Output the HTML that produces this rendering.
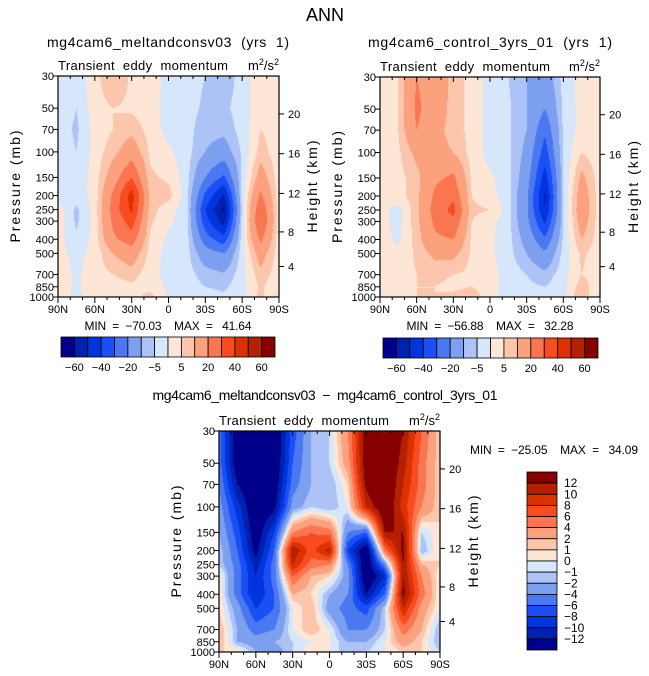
<!DOCTYPE html>
<html><head><meta charset="utf-8"><style>
body{margin:0;background:#fff;width:649px;height:676px;overflow:hidden;position:relative;font-family:"Liberation Sans",sans-serif}
canvas{position:absolute}
svg{position:absolute;left:0;top:0}
svg text{white-space:pre}
</style></head><body>
<canvas id="c1" style="left:58px;top:76px" width="221" height="221"></canvas>
<canvas id="c2" style="left:380px;top:77px" width="220" height="220"></canvas>
<canvas id="c3" style="left:219px;top:431px" width="221" height="221"></canvas>
<svg id="ov" width="649" height="676"></svg>
<script>
// ---- data ----
const lats = [90,75,60,45,30,15,0,-15,-30,-45,-60,-75,-90];
const levels = [30,50,70,100,150,200,250,300,400,500,700,850,1000];
const pTicks = [30,50,70,100,150,200,250,300,400,500,700,850,1000];
const hTicks = [4,8,12,16,20];
const latTicks = ["90N","60N","30N","0","30S","60S","90S"];
const palette = ["#00008b","#0020b0","#0035dd","#1a4ff8","#4a78f0","#7c9ff0","#adc3f7","#d6e6fb","#fde6d6","#fcc6ad","#fba17d","#f97650","#f84b1f","#dc3200","#b52000","#870000"];
const bounds1 = [-60,-50,-40,-30,-20,-10,-5,0,5,10,20,30,40,50,60];
const cbLabels1 = ["-60","-40","-20","-5","5","20","40","60"];
const bounds3 = [-12,-10,-8,-6,-4,-2,-1,0,1,2,4,6,8,10,12];
const cbLabels3 = ["12","10","8","6","4","2","1","0","\u22121","\u22122","\u22124","\u22126","\u22128","\u221210","\u221212"];
const field1 = [
[-2,-3,3,10,4,3,-2,-3,-5,-8,-3,4,3],
[-2,-5,3,5,4,2,-2,-3,-6,-6,-3,4,3],
[-2,-6,2,5,8,3,-2,-3,-8,-8,-3,5,3],
[-2,-5,2,8,15,4,1,-3,-10,-14,-4,7,2],
[-2,-3,2,15,30,6,4,-3,-20,-32,-4,14,2],
[-3,-3,2,22,45,8,7,-3,-32,-52,-3,22,2],
[3,-6,2,24,42,7,2,-3,-40,-62,-3,28,2],
[3,-6,2,22,35,6,1,-3,-36,-55,-3,30,2],
[2,-4,2,18,25,4,-1,-3,-25,-36,-2,22,2],
[2,-2,2,10,15,3,-2,-3,-15,-20,-2,14,2],
[3,-1,3,5,7,2,-2,-3,-7,-9,-2,8,2],
[3,-1,3,3,4,3,-1,-3,-5,-6,-2,6,1],
[2,-1,2,2,3,7,-1,-3,-3,-4,-2,7,-3]];
const field2 = [
[2,5,20,15,8,3,-2,-5,-10,-15,-3,2,2],
[2,5,22,14,8,3,-2,-4,-10,-20,-4,2,2],
[2,5,20,12,8,3,-2,-4,-10,-28,-4,2,2],
[2,4,12,12,10,3,-2,-4,-12,-35,-4,5,2],
[2,3,8,18,22,4,1,-3,-15,-45,-5,12,2],
[2,3,8,22,28,5,2,-3,-18,-52,-5,15,2],
[2,-2,8,24,33,6,5,-3,-18,-50,-5,16,2],
[2,-2,8,22,28,5,2,-3,-17,-42,-5,14,2],
[2,-1,7,18,20,4,1,-3,-13,-28,-4,10,2],
[2,1,6,12,12,4,1,-3,-10,-18,-3,6,2],
[2,2,5,6,5,4,2,-2,-5,-8,-2,5,2],
[3,3,5,5,4,5,2,-2,-4,-5,-2,8,1],
[3,3,5,5,6,8,2,-3,-4,-4,-2,10,-3]];
const field3 = [
[-5,-14,-15,-15,-7,-2,-1,4,14,15,12,6,1],
[-5,-14,-15,-15,-6,-2,-1,3,14,15,11,5,1],
[-4,-12,-15,-14,-5,-2,-2,1,13,15,10,5,1],
[-3,-9,-15,-13,-3,-1,-2,0,10,15,9,4,1],
[-2,-7,-14,-8,4,6,5,-4,-6,12,12,-1,1],
[-1,-6,-13,-6,12,7,11,-8,-15,5,13,-2,1],
[-1,-5,-11,-5,10,5,4,-4,-15,-4,12,2,1],
[1,-5,-10,-5,6,2,1,-3,-15,-10,12,4,0],
[1,-5,-10,-6,2,1,-2,-4,-12,-6,13,5,0],
[1,-3,-8,-6,0,2,-3,-5,-7,-1,10,3,0],
[2,-2,-5,-4,0,2,0,-4,-4,-1,5,2,-2],
[2,-2,-3,-2,-1,0,0,-2,-2,0,3,1,-2],
[1,1,-2,-3,-1,1,0,-2,-1,0,1,1,-1]];

const L0=Math.log(30), LR=Math.log(1000/30);
function yOfP(p,top,h){return top+(Math.log(p)-L0)/LR*h;}
function xOfLat(lat,left,w){return left+(90-lat)/180*w;}
function pOfZ(z){const m=z*1000; return m<=11000?1013.25*Math.pow(1-2.25577e-5*m,5.25588):226.32*Math.exp(-(m-11000)/6341.6);}
function colorOf(v,b){let i=0;while(i<b.length&&v>=b[i])i++;return palette[i];}
const lnLev = levels.map(Math.log);
function drawField(id,field,b){
  const c=document.getElementById(id),ctx=c.getContext('2d'),W=c.width,H=c.height;
  for(let py=0;py<H;py++){
    const lp=L0+(py+0.5)/H*LR;
    let k=0;while(k<lnLev.length-2&&lp>lnLev[k+1])k++;
    let t=(lp-lnLev[k])/(lnLev[k+1]-lnLev[k]);t=Math.max(0,Math.min(1,t));
    for(let px=0;px<W;px++){
      const fx=(px+0.5)/W*(lats.length-1);let j=Math.min(Math.floor(fx),lats.length-2);const s=fx-j;
      const v=(1-t)*((1-s)*field[k][j]+s*field[k][j+1])+t*((1-s)*field[k+1][j]+s*field[k+1][j+1]);
      ctx.fillStyle=colorOf(v,b);ctx.fillRect(px,py,1,1);
    }
  }
}
drawField('c1',field1,bounds1);drawField('c2',field2,bounds1);drawField('c3',field3,bounds3);

const NS='http://www.w3.org/2000/svg',ov=document.getElementById('ov');
function mk(tag,attrs,parent){const e=document.createElementNS(NS,tag);for(const k in attrs)e.setAttribute(k,attrs[k]);(parent||ov).appendChild(e);return e;}
function txt(x,y,s,size,anchor,name,rot,tl){const e=mk('text',{x:x,y:y,'font-size':size,'text-anchor':anchor||'middle',fill:'#000','font-family':'Liberation Sans, sans-serif'});
  if(rot)e.setAttribute('transform','rotate(-90 '+x+' '+y+')');
  if(tl){e.setAttribute('textLength',tl);e.setAttribute('lengthAdjust','spacing');}
  
  
  e.textContent=s;return e;}
function ln(x1,y1,x2,y2,w){const e=mk('line',{x1:x1,y1:y1,x2:x2,y2:y2,stroke:'#000','stroke-width':w||1});return e;}

function axes(left,top,w,h,pfx){
  const r=mk('rect',{x:left,y:top,width:w,height:h,fill:'none',stroke:'#000','stroke-width':1.2});
  
  pTicks.forEach(p=>{const y=yOfP(p,top,h);ln(left-5,y,left,y);txt(left-4,y+4,String(p),11,'end',pfx+'-pressure-tick-label');});
  hTicks.forEach(z=>{const y=yOfP(pOfZ(z),top,h);ln(left+w,y,left+w+5,y);txt(left+w+9,y+4,String(z),11,'start',pfx+'-height-tick-label');});
  for(let lat=90;lat>=-90;lat-=10){const x=xOfLat(lat,left,w);const maj=lat%30===0;
    ln(x,top+h,x,top+h+(maj?6:3));ln(x,top,x,top+(maj?5:3));}
  latTicks.forEach((s,i)=>{const x=left+i*w/6;txt(x,top+h+16,s,11,'middle',pfx+'-lat-tick-label');});
  txt(left,top-6,'Transient  eddy  momentum',13,'start',pfx+'-subtitle',false,170);
  const u=txt(left+w,top-6,'',13,'end',pfx+'-units');
  u.innerHTML='m<tspan dy="-5" font-size="9">2</tspan><tspan dy="5">/s</tspan><tspan dy="-5" font-size="9">2</tspan>';
  txt(left-38,top+h/2,'Pressure (mb)',14,'middle',pfx+'-y-axis-title',true,112);
  txt(left+w+38,top+h/2,'Height (km)',14,'middle',pfx+'-y2-axis-title',true,92);
}
axes(58,76,221,221,'panel1');axes(380,77,220,220,'panel2');axes(219,431,221,221,'diff');

function hbar(x,y,w,h,pfx){
  const n=palette.length,bw=w/n;
  palette.forEach((c,i)=>{const r=mk('rect',{x:x+i*bw,y:y,width:bw,height:h,fill:c,stroke:'#000','stroke-width':0.8});
    });
  cbLabels1.forEach((s,i)=>{txt(x+(2*i+1)*bw,y+h+14,s.replace('-','\u2212'),11,'middle',pfx+'-colorbar-label');});
}
hbar(61,337,214,20,'panel1');hbar(383,338,215,20,'panel2');
(function(){const x=527,y=472,w=30,h=178,n=palette.length,bh=h/n;
  for(let i=0;i<n;i++){const r=mk('rect',{x:x,y:y+i*bh,width:w,height:bh,fill:palette[n-1-i],stroke:'#000','stroke-width':0.8});
    }
  cbLabels3.forEach((s,i)=>{txt(x+w+7,y+(i+1)*bh+4,s,12,'start','diff-colorbar-label');});
})();

txt(325,21,'ANN',18,'middle','main-title',false,38);
txt(168,47,'mg4cam6_meltandconsv03  (yrs  1)',14,'middle','panel1-title',false,242);
txt(490,47,'mg4cam6_control_3yrs_01  (yrs  1)',14,'middle','panel2-title',false,244);
txt(168,330,'MIN  =  \u221270.03    MAX  =   41.64',12,'middle','panel1-minmax',false,167);
txt(490,330,'MIN  =  \u221256.88    MAX  =   32.28',12,'middle','panel2-minmax',false,167);
txt(325,400,'mg4cam6_meltandconsv03  \u2212  mg4cam6_control_3yrs_01',14,'middle','diff-title',false,345);
txt(470,454,'MIN  =  \u221225.05    MAX  =   34.09',12,'start','diff-minmax',false,168);
</script>
</body></html>
